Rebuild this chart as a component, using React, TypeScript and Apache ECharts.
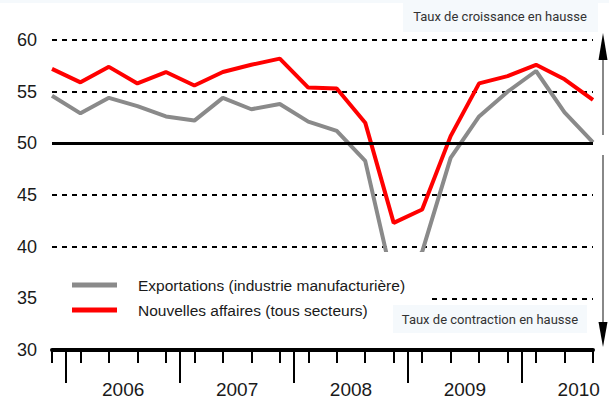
import React, { useEffect, useRef } from "react";
import * as echarts from "echarts";

const quarters = [
  "2005T4",
  "2006T1", "2006T2", "2006T3", "2006T4",
  "2007T1", "2007T2", "2007T3", "2007T4",
  "2008T1", "2008T2", "2008T3", "2008T4",
  "2009T1", "2009T2", "2009T3", "2009T4",
  "2010T1", "2010T2", "2010T3",
];
const exportValues = [54.6, 52.9, 54.4, 53.6, 52.6, 52.2, 54.4, 53.3, 53.8, 52.1, 51.2, 48.3, 36.3, 39.5, 48.6, 52.6, 55.0, 57.0, 53.0, 50.1];
const newBusinessValues = [57.2, 55.9, 57.4, 55.8, 56.9, 55.6, 56.9, 57.6, 58.2, 55.4, 55.3, 52.0, 42.3, 43.6, 50.7, 55.8, 56.5, 57.6, 56.2, 54.2];
const yearLabels = ["2006", "2007", "2008", "2009", "2010"];
const exportName = "Exportations (industrie manufacturière)";
const newBusinessName = "Nouvelles affaires (tous secteurs)";
const topNote = "Taux de croissance en hausse";
const bottomNote = "Taux de contraction en hausse";

const sans = '"Liberation Sans", Arial, Helvetica, sans-serif';

// half-quarter steps for year boundary ticks and year labels
const halfSteps = Array.from({ length: quarters.length * 2 - 1 }, (_, i) => String(i));
const isYearBoundary = (i: number) => i % 8 === 1;
const isYearCenter = (i: number) => i % 8 === 5;

export default function App() {
  const ref = useRef<HTMLDivElement>(null);
  useEffect(() => {
    document.body.style.margin = "0";
    const chart = echarts.init(ref.current!, undefined, { renderer: "svg" });
    chart.setOption({
      animation: false,
      backgroundColor: "#ffffff",
      grid: { left: 52, right: 16, top: 40, bottom: 53, containLabel: false },
      legend: {
        orient: "vertical",
        left: 52,
        top: 252,
        backgroundColor: "#ffffff",
        padding: [23, 26, 20, 20],
        itemWidth: 45,
        itemHeight: 5,
        itemGap: 5,
        icon: "rect",
        textStyle: { fontFamily: sans, fontSize: 15.5, color: "#1a1a1a", lineHeight: 20, padding: [0, 0, 0, 16] },
        data: [exportName, newBusinessName],
      },
      xAxis: [
        {
          type: "category",
          data: quarters,
          boundaryGap: false,
          axisLine: { lineStyle: { color: "#000", width: 4 } },
          axisTick: { show: true, interval: 0, length: 13, lineStyle: { color: "#000", width: 2 } },
          axisLabel: { show: false },
          splitLine: { show: false },
        },
        {
          type: "category",
          data: halfSteps,
          boundaryGap: false,
          position: "bottom",
          axisLine: { show: false },
          axisTick: { show: true, interval: (i: number) => isYearBoundary(i), length: 33, lineStyle: { color: "#000", width: 2 } },
          axisLabel: {
            show: true,
            interval: (i: number) => isYearCenter(i),
            formatter: (_v: string, i: number) => yearLabels[(i - 5) / 8] ?? "",
            margin: 30,
            fontFamily: sans,
            fontSize: 19,
            color: "#1a1a1a",
          },
          splitLine: { show: false },
        },
      ],
      yAxis: {
        type: "value",
        min: 30,
        max: 60,
        interval: 5,
        axisLine: { show: false },
        axisTick: { show: false },
        axisLabel: { fontFamily: sans, fontSize: 18, color: "#1a1a1a", margin: 15, padding: [10, 0, 0, 0] },
        splitLine: { show: true, lineStyle: { color: "#000", width: 2, type: [5, 5] } },
      },
      series: [
        {
          type: "line",
          name: exportName,
          data: exportValues,
          xAxisIndex: 0,
          symbol: "none",
          lineStyle: { color: "#8a8a8a", width: 4 },
          itemStyle: { color: "#8a8a8a" },
          z: 3,
          markLine: {
            silent: true,
            symbol: "none",
            label: { show: false },
            lineStyle: { color: "#000", width: 3, type: "solid" },
            data: [{ yAxis: 50 }],
          },
        },
        {
          type: "line",
          name: newBusinessName,
          data: newBusinessValues,
          xAxisIndex: 0,
          symbol: "none",
          lineStyle: { color: "#ff0000", width: 4 },
          itemStyle: { color: "#ff0000" },
          z: 3,
        },
      ],
      graphic: [
        { type: "rect", z: 100, shape: { x: 0, y: 0, width: 609, height: 3 }, style: { fill: "#f5f9fc" } },
        { type: "rect", z: 100, shape: { x: 403, y: 0, width: 195, height: 32 }, style: { fill: "#f5f9fc" } },
        { type: "text", z: 101, x: 500, y: 16, style: { text: topNote, fill: "#333", font: '13px Roboto, "Liberation Sans", sans-serif', align: "center", verticalAlign: "middle" } },
        { type: "rect", z: 100, shape: { x: 393, y: 305, width: 194, height: 28 }, style: { fill: "#f5f9fc" } },
        { type: "text", z: 101, x: 490, y: 319, style: { text: bottomNote, fill: "#333", font: '13px Roboto, "Liberation Sans", sans-serif', align: "center", verticalAlign: "middle" } },
        { type: "line", z: 100, shape: { x1: 603, y1: 58, x2: 603, y2: 135 }, style: { stroke: "#888", lineWidth: 2 } },
        { type: "line", z: 100, shape: { x1: 603, y1: 155, x2: 603, y2: 324 }, style: { stroke: "#888", lineWidth: 2 } },
        { type: "polygon", z: 101, shape: { points: [[603, 33], [598.5, 60], [607.5, 60]] }, style: { fill: "#000" } },
        { type: "polygon", z: 101, shape: { points: [[603, 347], [598.5, 322], [607.5, 322]] }, style: { fill: "#000" } },
      ],
    });
    return () => chart.dispose();
  }, []);
  return <div ref={ref} style={{ width: 609, height: 403, position: "absolute", left: 0, top: 0 }} />;
}
